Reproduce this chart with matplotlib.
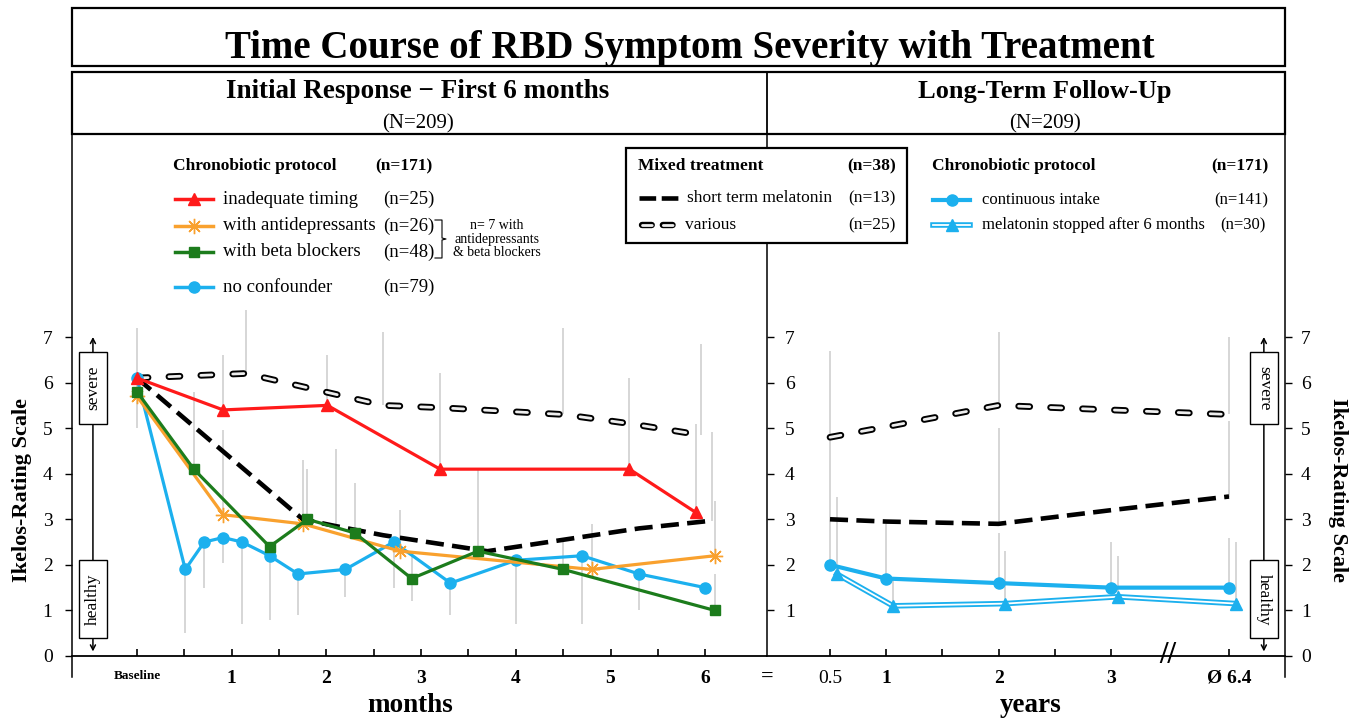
import numpy as np
import matplotlib
matplotlib.use("Agg")
import matplotlib.pyplot as plt
from matplotlib.patches import Rectangle

plt.rcParams['font.family'] = ['Liberation Serif', 'DejaVu Serif']
plt.rcParams['lines.scale_dashes'] = False

W, H = 1358, 719
RED, ORANGE, GREEN, BLUE = '#ff1a1a', '#f9a12e', '#1c7c1c', '#1cb0ee'
GREY = '#cccccc'

# ---- initial response (x in months, 0 = baseline) ----
red_x = [0, 0.91, 2.01, 3.2, 5.2, 5.9]
red_y = [6.1, 5.4, 5.5, 4.1, 4.1, 3.15]
red_up = [1.1, 1.2, 1.1, 2.1, 2.0, 1.95]
red_dn = [1.1, 0, 0, 0, 0, 0]

orange_x = [0, 0.91, 1.75, 2.78, 4.8, 6.1]
orange_y = [5.7, 3.1, 2.9, 2.3, 1.9, 2.2]
orange_up = [0, 1.85, 1.4, 0.9, 1.0, 1.2]

green_x = [0, 0.6, 1.4, 1.8, 2.3, 2.9, 3.6, 4.5, 6.1]
green_y = [5.8, 4.1, 2.4, 3.0, 2.7, 1.7, 2.3, 1.9, 1.0]
green_up = [0, 1.7, 0, 1.1, 1.1, 0.5, 1.8, 0.7, 0.8]
green_dn = [0, 0, 1.6, 0, 0, 0.5, 0, 0, 0]

blue_x = [0, 0.51, 0.71, 0.91, 1.11, 1.4, 1.7, 2.2, 2.71, 3.31, 4.0, 4.7, 5.3, 6.0]
blue_y = [6.1, 1.9, 2.5, 2.6, 2.5, 2.2, 1.8, 1.9, 2.5, 1.6, 2.1, 2.2, 1.8, 1.5]
blue_dn = [0, 1.4, 1.0, 0.55, 1.8, 0, 0.9, 0.6, 1.0, 0.7, 1.4, 1.5, 0.8, 0]

short_x = [0, 1.75, 2.1, 2.6, 3.7, 4.5, 5.3, 6.07]
short_y = [6.1, 3.0, 2.85, 2.65, 2.3, 2.55, 2.8, 2.97]
short_up = [0, 0, 1.7, 0, 0, 0, 0, 1.95]

var_x = [0, 1.15, 2.6, 3.2, 4.5, 5.2, 5.95]
var_y = [6.1, 6.2, 5.5, 5.45, 5.3, 5.1, 4.85]
var_up = [0, 1.4, 1.6, 0, 1.9, 0, 2.0]

month_labels = ['Baseline', '1', '2', '3', '4', '5', '6']

# ---- long-term follow-up (x in years) ----
years = [0.5, 1, 2, 3, 6.4]
cont_y = [2.0, 1.7, 1.6, 1.5, 1.5]
cont_up = [0, 1.2, 1.1, 1.0, 1.1]
stop_y = [1.8, 1.1, 1.15, 1.3, 1.15]
stop_up = [1.7, 0.6, 1.15, 0.9, 1.35]
short_lt_y = [3.0, 2.95, 2.9, 3.2, 3.5]
short_lt_up = [0, 0, 2.1, 0, 1.65]
var_lt_y = [4.8, 5.03, 5.5, 5.4, 5.3]
var_lt_up = [1.9, 0, 1.6, 0, 1.7]
var_lt_dn = [2.8, 0, 0, 0, 0]

year_ticks = [0.5, 1, 1.5, 2, 2.5, 3, 6.4]
year_labels = ['0.5', '1', '', '2', '', '3', 'Ø 6.4']

BREAK_POS = 4.05  # where the broken axis puts the mean follow-up


def brk(v):
    v = np.asarray(v, dtype=float)
    return np.where(v > 3.5, BREAK_POS, v)


def fx(px):
    return px / W


def fy(py):
    return 1 - py / H


YLIM = (-0.461, 11.455)

fig = plt.figure(figsize=(W / 100, H / 100), dpi=100)
axL = fig.add_axes([fx(72), fy(677), fx(767) - fx(72), fy(134) - fy(677)])
axR = fig.add_axes([fx(767), fy(677), fx(1285) - fx(767), fy(134) - fy(677)])


def short_line(ax, x, y):
    ax.plot(x, y, color='black', lw=3.3, ls=(0, (13, 6)), zorder=3)


def hollow_line(ax, x, y):
    ax.plot(x, y, color='black', lw=4.8, ls=(0, (8, 15)),
            dash_capstyle='round', zorder=2)
    ax.plot(x, y, color='#eeeeee', lw=2.0, ls=(0, (8, 15)),
            dash_capstyle='round', zorder=2.1)


def bars(ax, x, y, dn, up):
    ax.errorbar(x, y, yerr=[dn, up], fmt='none', ecolor=GREY,
                elinewidth=1.1, capsize=0, zorder=1)


# ---------------- left panel ----------------
z = [0] * 20
bars(axL, red_x, red_y, red_dn, red_up)
bars(axL, orange_x, orange_y, z[:len(orange_x)], orange_up)
bars(axL, green_x, green_y, green_dn, green_up)
bars(axL, blue_x, blue_y, blue_dn, z[:len(blue_x)])
bars(axL, short_x, short_y, z[:len(short_x)], short_up)
bars(axL, var_x, var_y, z[:len(var_x)], var_up)

hollow_line(axL, var_x, var_y)
short_line(axL, short_x, short_y)
axL.plot(blue_x, blue_y, color=BLUE, lw=2.3, marker='o', ms=8, zorder=4)
axL.plot(orange_x, orange_y, color=ORANGE, lw=2.3, marker=(8, 2, 0), ms=11,
         mew=1.0, mec=ORANGE, zorder=4)
axL.plot(green_x, green_y, color=GREEN, lw=2.3, marker='s', ms=7, zorder=5)
axL.plot(red_x, red_y, color=RED, lw=2.3, marker='^', ms=8, zorder=5)

axL.set_xlim(-0.686, 6.652)
axL.set_ylim(*YLIM)
for s in ['top', 'right']:
    axL.spines[s].set_visible(False)
axL.spines['bottom'].set_position(('data', 0))
axL.spines['left'].set_linewidth(1.1)
axL.spines['bottom'].set_linewidth(1.3)
axL.set_yticks(range(8))
axL.tick_params(axis='y', direction='out', length=5, width=1, labelsize=14, pad=9)
axL.set_xticks(range(7), month_labels, fontweight='bold')
axL.set_xticks(np.arange(0.5, 6, 1), minor=True)
axL.tick_params(axis='x', which='both', direction='in', length=5, width=1.2,
                labelsize=14, pad=10)
axL.get_xticklabels()[0].set_fontsize(9.5)

# ---------------- right panel ----------------
xp = brk(years)
bars(axR, xp, var_lt_y, var_lt_dn, var_lt_up)
bars(axR, xp, short_lt_y, z[:5], short_lt_up)
bars(axR, xp, cont_y, z[:5], cont_up)
bars(axR, xp + 0.06, stop_y, z[:5], stop_up)

hollow_line(axR, xp, var_lt_y)
short_line(axR, xp, short_lt_y)
axR.plot(xp + 0.06, stop_y, color=BLUE, lw=4, zorder=4)
axR.plot(xp + 0.06, stop_y, color='white', lw=1.3, zorder=4.1)
axR.plot(xp + 0.06, stop_y, ls='none', marker='^', ms=8, color=BLUE, zorder=4.2)
axR.plot(xp, cont_y, color=BLUE, lw=3, marker='o', ms=8, zorder=5)

axR.set_xlim(-0.0605, 4.548)
axR.set_ylim(*YLIM)
axR.spines['top'].set_visible(False)
axR.spines['right'].set_visible(False)
axR.spines['bottom'].set_position(('data', 0))
axR.spines['bottom'].set_linewidth(1.3)
axR.spines['left'].set_bounds(0, YLIM[1])
axR.spines['left'].set_linewidth(1.1)
axR.set_yticks(range(1, 8))
axR.tick_params(axis='y', direction='in', length=5, width=1, labelsize=14, pad=-13)
for lbl in axR.get_yticklabels():
    lbl.set_horizontalalignment('left')
axR.set_xticks(brk(year_ticks), year_labels, fontweight='bold')
axR.tick_params(axis='x', direction='in', length=5, width=1.2, labelsize=14, pad=10)
axR.get_xticklabels()[0].set_fontweight('normal')
axR.text(3.507, 0, '//', ha='center', va='center', fontsize=22,
         fontweight='bold', zorder=6)

axR2 = axR.twinx()
axR2.set_ylim(*YLIM)
for s in ['top', 'left', 'bottom']:
    axR2.spines[s].set_visible(False)
axR2.spines['right'].set_linewidth(1.1)
axR2.set_yticks(range(8))
axR2.tick_params(axis='y', direction='out', length=5, width=1, labelsize=14, pad=6.5)

# severity arrows with boxes
for ax, xc, w, rot in [(axL, -0.465, 0.296, 90), (axR2, 4.36, 0.249, 270)]:
    ax.annotate('', xy=(xc, 7.0), xytext=(xc, 0.1),
                arrowprops=dict(arrowstyle='<->,head_length=0.35,head_width=0.18',
                                lw=1.1, color='black', shrinkA=0, shrinkB=0))
    ax.add_patch(Rectangle((xc - w / 2, 5.09), w, 1.59, fc='white', ec='black',
                           lw=1, zorder=5))
    ax.add_patch(Rectangle((xc - w / 2, 0.39), w, 1.71, fc='white', ec='black',
                           lw=1, zorder=5))
    ax.text(xc, 5.88, 'severe', rotation=rot, ha='center', va='center',
            fontsize=12.5, zorder=6)
    ax.text(xc, 1.245, 'healthy', rotation=rot, ha='center', va='center',
            fontsize=12.5, zorder=6)
axR2.set_xlim(-0.0605, 4.548)

# ---------------- overlay in pixel units ----------------
ov = fig.add_axes([0, 0, 1, 1], zorder=10)
ov.set_xlim(0, W)
ov.set_ylim(H, 0)
ov.axis('off')

ov.add_patch(Rectangle((72, 8), 1213, 58, fill=False, ec='black', lw=1.6))
ov.add_patch(Rectangle((72, 72), 1213, 62, fill=False, ec='black', lw=1.6))
ov.plot([767, 767], [72, 134], color='black', lw=1.3)

ov.text(690, 58, 'Time Course of RBD Symptom Severity with Treatment',
        ha='center', va='baseline', fontsize=28, fontweight='bold')
ov.text(418, 98, 'Initial Response − First 6 months', ha='center',
        va='baseline', fontsize=19.5, fontweight='bold')
ov.text(418, 128, '(N=209)', ha='center', va='baseline', fontsize=15)
ov.text(1045, 98, 'Long-Term Follow-Up', ha='center', va='baseline',
        fontsize=19, fontweight='bold')
ov.text(1045, 128, '(N=209)', ha='center', va='baseline', fontsize=15)

ov.text(22, 490, 'Ikelos-Rating Scale', rotation=90, ha='center', va='center',
        fontsize=16, fontweight='bold')
ov.text(1338, 490, 'Ikelos-Rating Scale', rotation=270, ha='center', va='center',
        fontsize=16, fontweight='bold')
ov.text(410, 712, 'months', ha='center', va='baseline', fontsize=19.5,
        fontweight='bold')
ov.text(1031, 712, 'years', ha='center', va='baseline', fontsize=19.5,
        fontweight='bold')
ov.text(767, 677, '=', ha='center', va='center', fontsize=16, fontweight='bold')

# left legend
ov.text(173, 166, 'Chronobiotic protocol', va='center', fontsize=12.5,
        fontweight='bold')
ov.text(375, 166, '(n=171)', va='center', fontsize=12.5, fontweight='bold')
leg_rows = [
    (199, RED, dict(marker='^', ms=8), 'inadequate timing', '(n=25)'),
    (226, ORANGE, dict(marker=(8, 2, 0), ms=11, mew=1.0), 'with antidepressants', '(n=26)'),
    (252, GREEN, dict(marker='s', ms=7), 'with beta blockers', '(n=48)'),
    (287, BLUE, dict(marker='o', ms=8), 'no confounder', '(n=79)'),
]
for yy, col, mk, lab, n in leg_rows:
    ov.plot([175, 213], [yy, yy], color=col, lw=2.5)
    ov.plot([194], [yy], color=col, mec=col, ls='none', **mk)
    ov.text(223, yy, lab, va='center', fontsize=13.5)
    ov.text(383, yy, n, va='center', fontsize=13.5)
ov.plot([435, 442, 442, 446, 442, 442, 435],
        [220, 220, 238, 239, 240, 258, 258], color='black', lw=0.8)
ov.text(497, 239, 'n= 7 with\nantidepressants\n& beta blockers', ha='center',
        va='center', fontsize=10, linespacing=1.05)

# mixed treatment legend
ov.add_patch(Rectangle((626, 148), 281, 95, fc='white', ec='black', lw=1.6))
ov.text(638, 166, 'Mixed treatment', va='center', fontsize=12.5, fontweight='bold')
ov.text(896, 166, '(n=38)', va='center', ha='right', fontsize=12.5, fontweight='bold')
ov.plot([639, 679], [198, 198], color='black', lw=3.3, ls=(0, (12, 4)))
ov.text(687, 198, 'short term melatonin', va='center', fontsize=12.5)
ov.text(896, 198, '(n=13)', va='center', ha='right', fontsize=12.5)
for c, lw in [('black', 4.6), ('#eeeeee', 2.0)]:
    ov.plot([642, 676], [225, 225], color=c, lw=lw, ls=(0, (7, 8)),
            dash_capstyle='round')
ov.text(685, 225, 'various', va='center', fontsize=12.5)
ov.text(896, 225, '(n=25)', va='center', ha='right', fontsize=12.5)

# long-term legend
ov.text(932, 166, 'Chronobiotic protocol', va='center', fontsize=12.5,
        fontweight='bold')
ov.text(1268, 166, '(n=171)', va='center', ha='right', fontsize=12.5,
        fontweight='bold')
ov.plot([933, 970], [200, 200], color=BLUE, lw=3)
ov.plot([952], [200], marker='o', ms=8, color=BLUE)
ov.text(982, 200, 'continuous intake', va='center', fontsize=12)
ov.text(1268, 200, '(n=141)', va='center', ha='right', fontsize=12)
ov.plot([933, 970], [225, 225], color=BLUE, lw=4)
ov.plot([933, 970], [225, 225], color='white', lw=1.3)
ov.plot([952], [225], marker='^', ms=8, color=BLUE)
ov.text(982, 225, 'melatonin stopped after 6 months', va='center', fontsize=12)
ov.text(1266, 225, '(n=30)', va='center', ha='right', fontsize=12)

fig.savefig('out.png', dpi=100)
